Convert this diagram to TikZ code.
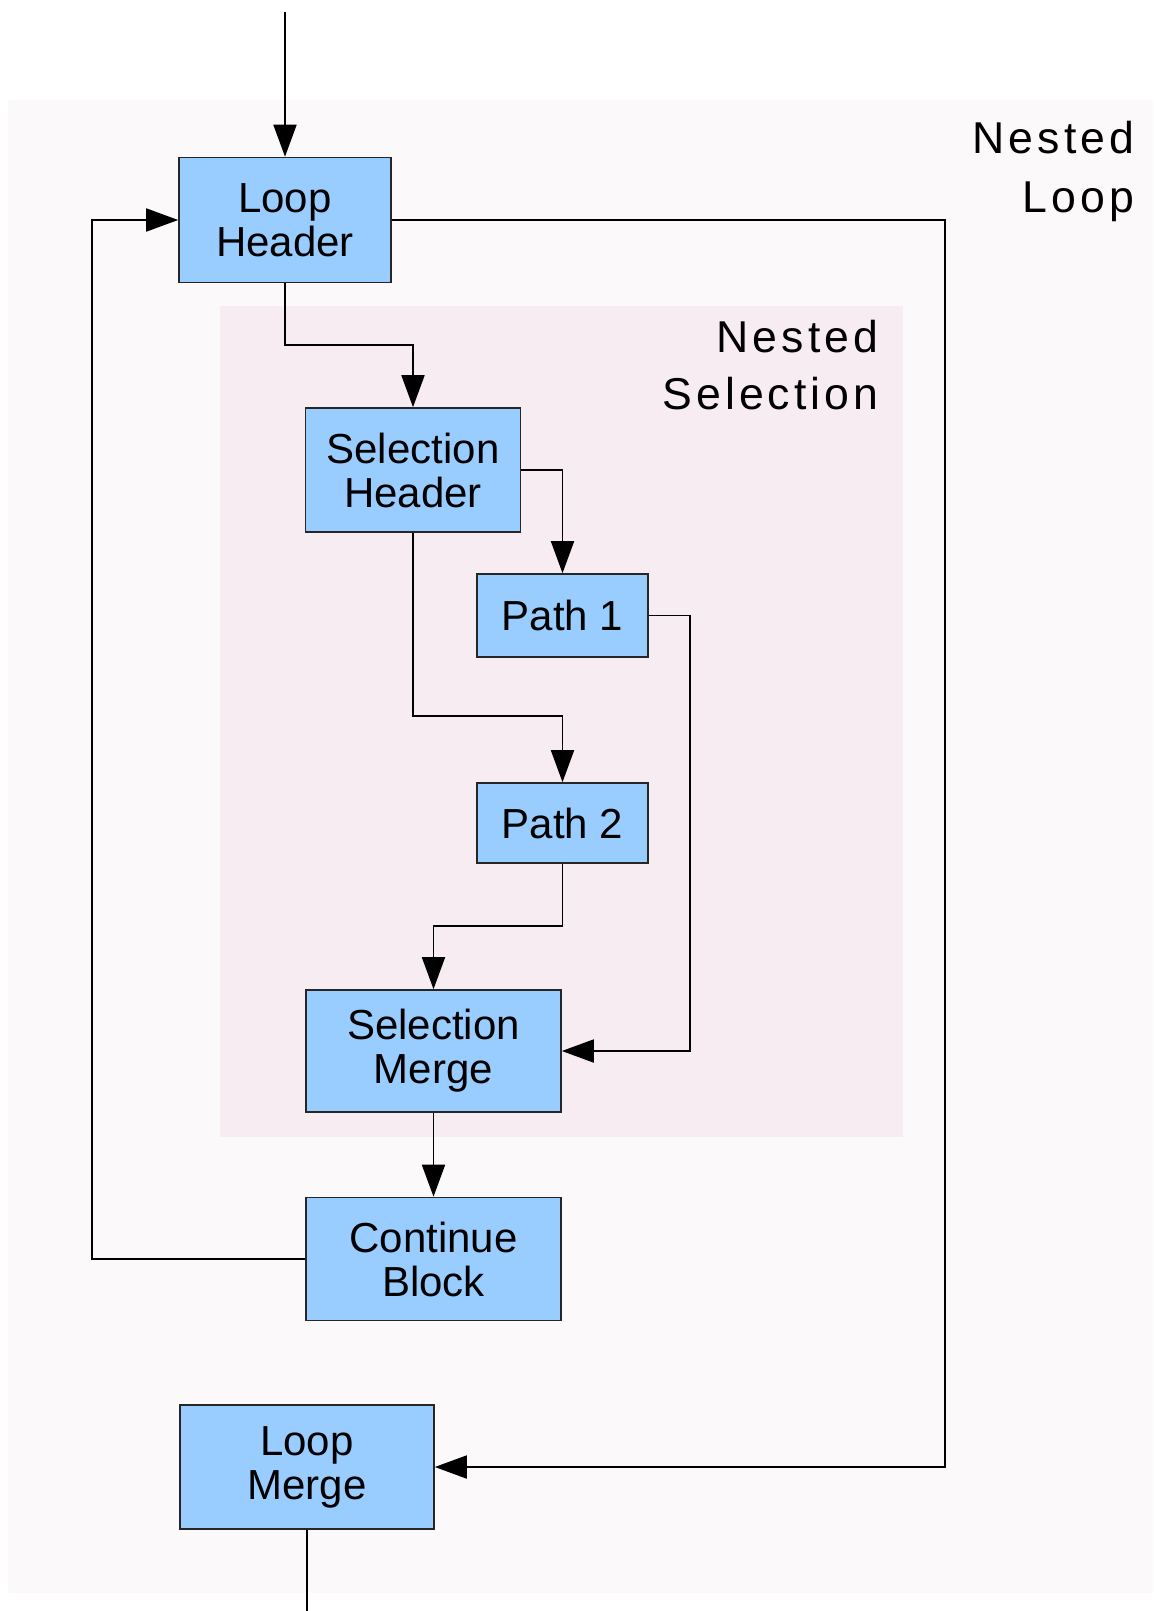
\documentclass[tikz,border=0pt]{standalone}
\usepackage{fontspec}
\setmainfont{Liberation Sans}
\newfontfamily\tagfont[LetterSpace=9]{Liberation Sans}
\usepackage{xcolor}
\usetikzlibrary{arrows.meta,positioning}

\definecolor{blockblue}{HTML}{99CCFF}
\definecolor{loopbg}{HTML}{FBF9FA}
\definecolor{selbg}{HTML}{F6ECF1}

\begin{document}
\begin{tikzpicture}[
  x=0.5pt, y=-0.5pt, line width=0.9pt,
  block/.style={draw=black!85, fill=blockblue, line width=0.8pt, align=center,
                inner sep=0pt, font=\fontsize{21}{22}\selectfont},
  tag/.style={align=right, inner sep=0pt, anchor=north east},
  arr/.style={-{Triangle[length=16pt,width=11.5pt]}}]
\useasboundingbox (0,0) rectangle (1153,1611);
% regions
\fill[loopbg] (8,100) rectangle (1153,1593);
\fill[selbg] (220,306) rectangle (903,1137);
\node[tag, font=\tagfont\fontsize{22.3}{29.5}\selectfont] (looptag) at (1135,120) {Nested\\Loop};
\node[tag, font=\tagfont\fontsize{22.3}{28.5}\selectfont] (seltag) at (879,319) {Nested\\Selection};
% blocks
\node[block, minimum width=106pt, minimum height=62.5pt] (loophead) at (285,220) {Loop\\Header};
\node[block, minimum width=107.5pt, minimum height=62pt] (selhead) at (413,470) {Selection\\Header};
\node[block, minimum width=85.5pt, minimum height=41.5pt] (path1) at (562.5,615.5) {Path 1};
\node[block, minimum width=85.5pt, minimum height=40pt] (path2) at (562.5,823) {Path 2};
\node[block, minimum width=127.5pt, minimum height=61pt] (selmerge) at (433.5,1051) {Selection\\Merge};
\node[block, minimum width=127.5pt, minimum height=61.5pt] (contblock) at (433.5,1259) {Continue\\Block};
\node[block, minimum width=127pt, minimum height=62pt] (loopmerge) at (307,1467) {Loop\\Merge};
\coordinate (entry) at (285,12);
\coordinate (exit) at (307,1611);
% edges
\draw[arr] (entry) -- (loophead);
\draw[arr] (loophead.east) -- (945,220) |- (loopmerge.east);
\draw[arr] (loophead.south) -- (285,345) -| (selhead.north);
\draw[arr] (selhead.east) -| (path1.north);
\draw[arr] (selhead.south) -- (413,716) -| (path2.north);
\draw[arr] (path1.east) -- (690,615.5) |- (selmerge.east);
\draw[arr] (path2.south) -- (562.5,926) -| (selmerge.north);
\draw[arr] (selmerge) -- (contblock);
\draw[arr] (contblock.west) -- (92,1259) |- (loophead.west);
\draw (loopmerge) -- (exit);
\end{tikzpicture}
\end{document}
